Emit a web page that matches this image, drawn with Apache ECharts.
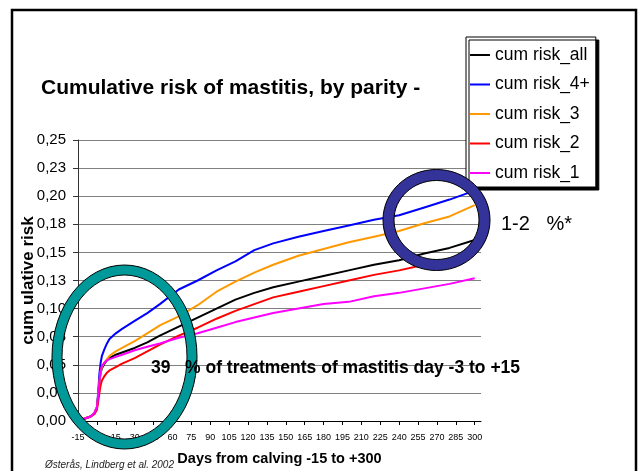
<!DOCTYPE html>
<html>
<head>
<meta charset="utf-8">
<script src="https://cdn.jsdelivr.net/npm/echarts@6/dist/echarts.min.js"></script>
<style>
  html, body { margin: 0; padding: 0; background: #ffffff; }
  #chart { width: 640px; height: 471px; }
</style>
</head>
<body>
<div id="chart"></div>
<script>
// Days from calving at which the cumulative risk is given
const days = [-15, -10, -5, -2, 0, 1, 2, 3, 4, 6, 8, 10, 15, 20, 30, 40, 50, 65, 80, 95, 110, 125, 140, 160, 180, 200, 220, 240, 260, 280, 300];

// Cumulative risk of mastitis per parity group
const riskAll = [0, 0.002, 0.004, 0.007, 0.012, 0.022, 0.035, 0.043, 0.047, 0.051, 0.054, 0.056, 0.059, 0.061, 0.065, 0.070, 0.076, 0.084, 0.092, 0.100, 0.108, 0.114, 0.119, 0.124, 0.129, 0.134, 0.139, 0.143, 0.149, 0.154, 0.161];
const risk4plus = [0, 0.002, 0.004, 0.007, 0.012, 0.025, 0.042, 0.052, 0.058, 0.064, 0.069, 0.073, 0.078, 0.082, 0.089, 0.096, 0.104, 0.117, 0.125, 0.134, 0.142, 0.152, 0.158, 0.164, 0.169, 0.174, 0.179, 0.183, 0.190, 0.197, 0.205];
const risk3 = [0, 0.002, 0.004, 0.007, 0.012, 0.022, 0.035, 0.044, 0.048, 0.052, 0.055, 0.058, 0.062, 0.065, 0.071, 0.078, 0.085, 0.093, 0.103, 0.115, 0.124, 0.132, 0.139, 0.147, 0.153, 0.159, 0.164, 0.169, 0.176, 0.182, 0.192];
const risk2 = [0, 0.002, 0.004, 0.006, 0.010, 0.017, 0.025, 0.032, 0.036, 0.040, 0.043, 0.045, 0.048, 0.051, 0.056, 0.062, 0.068, 0.076, 0.083, 0.091, 0.098, 0.104, 0.110, 0.115, 0.120, 0.125, 0.130, 0.134, 0.139, 0.143, 0.148];
const risk1 = [0, 0.002, 0.004, 0.007, 0.012, 0.022, 0.035, 0.045, 0.049, 0.052, 0.054, 0.055, 0.057, 0.059, 0.063, 0.066, 0.069, 0.074, 0.078, 0.083, 0.088, 0.092, 0.096, 0.100, 0.104, 0.106, 0.111, 0.114, 0.118, 0.122, 0.127];

const seriesNames = ['cum risk_all', 'cum risk_4+', 'cum risk_3', 'cum risk_2', 'cum risk_1'];
const seriesValues = [riskAll, risk4plus, risk3, risk2, risk1];
const seriesColors = ['#000000', '#0000FF', '#FF9900', '#FF0000', '#FF00FF'];

// Axis ticks
const xTickDays = [-15, 0, 15, 30, 45, 60, 75, 90, 105, 120, 135, 150, 165, 180, 195, 210, 225, 240, 255, 270, 285, 300];
const yTickLabels = ['0,00', '0,03', '0,05', '0,08', '0,10', '0,13', '0,15', '0,18', '0,20', '0,23', '0,25'];
const yStep = 0.025;

const FONT = 'Arial, "Liberation Sans", Helvetica, sans-serif';

const chart = echarts.init(document.getElementById('chart'), null, { renderer: 'canvas' });

const series = seriesNames.map((name, i) => ({
  name: name,
  type: 'line',
  symbol: 'none',
  smooth: false,
  color: seriesColors[i],
  lineStyle: { width: 2, color: seriesColors[i] },
  data: days.map((d, k) => [d, seriesValues[i][k]]),
  z: 3
}));

const option = {
  backgroundColor: '#ffffff',
  animation: false,
  textStyle: { fontFamily: FONT, color: '#000' },
  title: {
    text: 'Cumulative risk of mastitis, by parity -',
    left: 41,
    top: 78,
    padding: 0,
    textStyle: { fontFamily: FONT, fontSize: 21, fontWeight: 'bold', color: '#000' }
  },
  legend: {
    data: seriesNames,
    orient: 'vertical',
    left: 466,
    top: 37,
    icon: 'rect',
    itemWidth: 20,
    itemHeight: 2,
    itemGap: 9.5,
    padding: [8, 6, 4, 4],
    backgroundColor: '#ffffff',
    borderColor: '#000000',
    borderWidth: 1,
    shadowColor: '#000000',
    shadowBlur: 0,
    shadowOffsetX: 3,
    shadowOffsetY: 3,
    selectedMode: false,
    textStyle: { fontFamily: FONT, fontSize: 17.5, color: '#000', lineHeight: 20 }
  },
  grid: { left: 78, right: 159, top: 140, bottom: 47 },
  xAxis: {
    type: 'value',
    min: -15,
    max: 305,
    interval: 15,
    name: 'Days from calving -15 to +300',
    nameLocation: 'middle',
    nameGap: 30,
    nameMoveOverlap: false,
    nameTextStyle: { fontFamily: FONT, fontSize: 14.5, fontWeight: 'bold', color: '#000' },
    axisLine: { show: true, onZero: false, lineStyle: { color: '#000', width: 1 } },
    axisTick: { show: true, customValues: xTickDays, length: 4, lineStyle: { color: '#000' } },
    axisLabel: { customValues: xTickDays, fontFamily: FONT, fontSize: 9, margin: 12, color: '#000' },
    splitLine: { show: false }
  },
  yAxis: {
    type: 'value',
    min: 0,
    max: 0.25,
    interval: yStep,
    name: 'cum ulative risk',
    nameLocation: 'middle',
    nameRotate: 90,
    nameGap: 41,
    nameMoveOverlap: false,
    nameTextStyle: { fontFamily: FONT, fontSize: 17, fontWeight: 'bold', color: '#000' },
    axisLine: { show: true, onZero: false, lineStyle: { color: '#333', width: 1 } },
    axisTick: { show: true, length: 5, lineStyle: { color: '#333' } },
    axisLabel: {
      fontFamily: FONT, fontSize: 15, margin: 12, color: '#000',
      formatter: v => yTickLabels[Math.round(v / yStep)]
    },
    splitLine: { show: true, lineStyle: { color: '#808080', width: 1 } }
  },
  series: series,
  graphic: {
    elements: [
      // slide frame
      { type: 'rect', silent: true, z: 100, shape: { x: 12, y: 10, width: 624, height: 480 },
        style: { fill: null, stroke: '#000', lineWidth: 2.5 } },
      // teal ring around the calving period
      { type: 'ellipse', silent: true, z: 100, shape: { cx: 124.5, cy: 357, rx: 67.5, ry: 87 },
        style: { fill: null, stroke: '#009999', lineWidth: 10 } },
      { type: 'ellipse', silent: true, z: 101, shape: { cx: 124.5, cy: 357, rx: 72.5, ry: 92 },
        style: { fill: null, stroke: '#000', lineWidth: 1 } },
      { type: 'ellipse', silent: true, z: 101, shape: { cx: 124.5, cy: 357, rx: 62.5, ry: 82 },
        style: { fill: null, stroke: '#000', lineWidth: 1 } },
      // navy ring at the end of lactation
      { type: 'ellipse', silent: true, z: 100, shape: { cx: 436.5, cy: 220, rx: 48, ry: 45 },
        style: { fill: null, stroke: '#333399', lineWidth: 11 } },
      { type: 'ellipse', silent: true, z: 101, shape: { cx: 436.5, cy: 220, rx: 53.5, ry: 50.5 },
        style: { fill: null, stroke: '#000', lineWidth: 1 } },
      { type: 'ellipse', silent: true, z: 101, shape: { cx: 436.5, cy: 220, rx: 42.5, ry: 39.5 },
        style: { fill: null, stroke: '#000', lineWidth: 1 } },
      // annotations
      { type: 'text', silent: true, z: 110, x: 151, y: 368,
        style: { text: '39   % of treatments of mastitis day -3 to +15', fontFamily: FONT, fontSize: 17.5,
                 fontWeight: 'bold', fill: '#000', verticalAlign: 'middle', align: 'left' } },
      { type: 'text', silent: true, z: 110, x: 501, y: 224,
        style: { text: '1-2   %*', fontFamily: FONT, fontSize: 20, fill: '#000',
                 verticalAlign: 'middle', align: 'left' } },
      { type: 'text', silent: true, z: 110, x: 45, y: 465,
        style: { text: 'Østerås, Lindberg et al. 2002', fontFamily: FONT, fontSize: 10, fontStyle: 'italic',
                 fill: '#222', verticalAlign: 'middle', align: 'left' } }
    ]
  }
};

chart.setOption(option);
</script>
</body>
</html>
